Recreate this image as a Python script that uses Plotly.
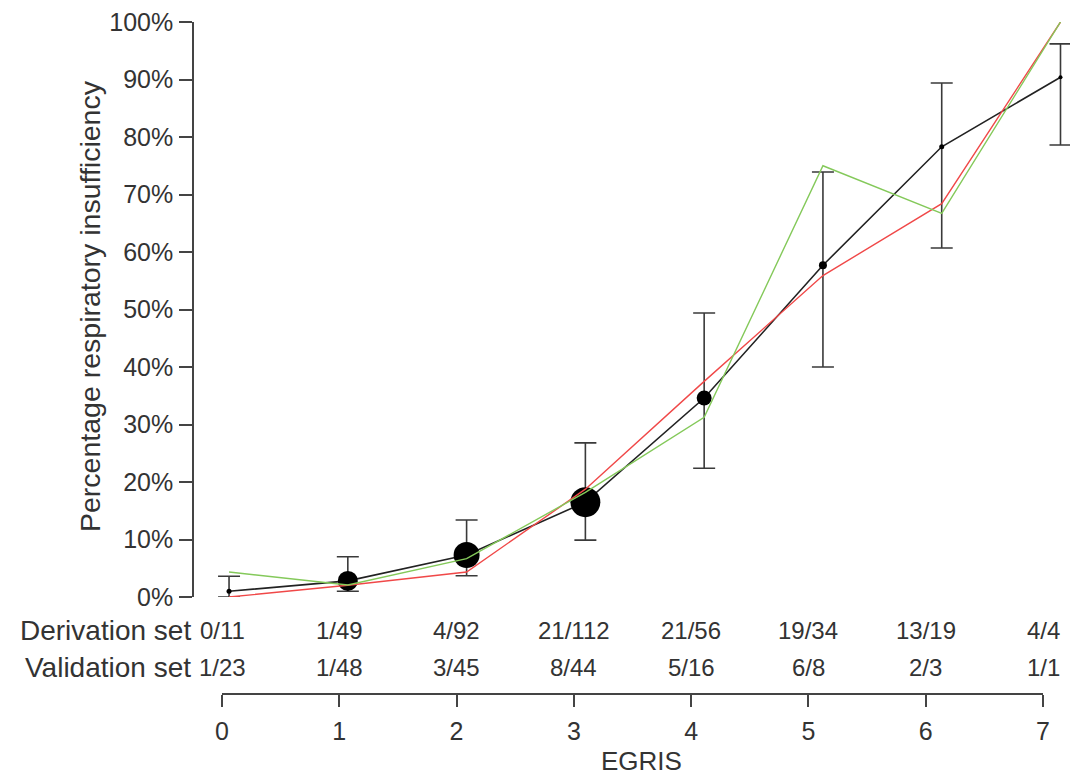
import plotly.graph_objects as go

# ---------------- data ----------------
egris = [0, 1, 2, 3, 4, 5, 6, 7]
# black: estimated proportion with 95% CI
black_y = [0.010, 0.028, 0.073, 0.165, 0.346, 0.577, 0.783, 0.904]
black_hi = [0.036, 0.070, 0.134, 0.268, 0.494, 0.739, 0.894, 0.962]
black_lo = [0.000, 0.010, 0.037, 0.099, 0.224, 0.400, 0.607, 0.786]
black_size = [5, 20, 26, 30, 15, 8, 5, 4]
# red: derivation set observed proportions
red_y = [0.0, 0.0204, 0.0435, 0.1875, 0.375, 0.559, 0.684, 1.0]
# green: validation set observed proportions
green_y = [0.0435, 0.0208, 0.0667, 0.182, 0.3125, 0.75, 0.667, 1.0]
deriv_labels = ["0/11", "1/49", "4/92", "21/112", "21/56", "19/34", "13/19", "4/4"]
valid_labels = ["1/23", "1/48", "3/45", "8/44", "5/16", "6/8", "2/3", "1/1"]
y_ticks = [i / 10 for i in range(11)]
y_ticklabels = [f"{i*10}%" for i in range(11)]

# ---------------- geometry ----------------
OFF = 8  # page body margin in the browser
W, H = 1082 - OFF, 779 - OFF
L, R, T, B = 194 - OFF, 1070 - OFF, 22 - OFF, 694 - OFF
PLOT_BOTTOM = 597 - OFF
FONT = "Liberation Sans, Arial, Helvetica, sans-serif"
TXT = "#333333"
AX = "#444444"


def py(px):
    """reference pixel y -> paper fraction"""
    return (B - (px - OFF)) / (B - T)


def pxx(px):
    """reference pixel x -> paper fraction"""
    return ((px - OFF) - L) / (R - L)


fig = go.Figure()

err_plus = [h - y for h, y in zip(black_hi, black_y)]
err_minus = [y - l for y, l in zip(black_y, black_lo)]

fig.add_trace(go.Scatter(
    x=egris, y=black_y, mode="lines+markers",
    line=dict(color="#222222", width=1.6),
    marker=dict(color="#000000", size=black_size, opacity=1,
                line=dict(width=0, color="#000000")),
    error_y=dict(type="data", symmetric=False, array=err_plus, arrayminus=err_minus,
                 color="#3a3a3a", thickness=1.6, width=11),
    cliponaxis=False, showlegend=False, hoverinfo="skip",
))
fig.add_trace(go.Scatter(
    x=egris, y=red_y, mode="lines",
    line=dict(color="#f04848", width=1.4),
    showlegend=False, hoverinfo="skip",
))
fig.add_trace(go.Scatter(
    x=egris, y=green_y, mode="lines",
    line=dict(color="#84c95a", width=1.4),
    showlegend=False, hoverinfo="skip",
))
# invisible trace so the lower EGRIS axis is drawn
fig.add_trace(go.Scatter(
    x=egris, y=[None] * len(egris), xaxis="x2", yaxis="y",
    mode="markers", showlegend=False, hoverinfo="skip",
))

fig.update_layout(
    template="none",
    width=W, height=H,
    margin=dict(l=L, r=W - R, t=T, b=H - B, pad=0),
    paper_bgcolor="white", plot_bgcolor="rgba(0,0,0,0)",
    font=dict(family=FONT, color=TXT, size=24),
    xaxis=dict(domain=[0, 1], range=[-0.295, 7.08], visible=False, anchor="y",
               automargin=False),
    yaxis=dict(
        domain=[py(PLOT_BOTTOM + OFF), 1], range=[0, 1],
        tickmode="array", tickvals=y_ticks, ticktext=y_ticklabels,
        showline=True, linecolor=AX, linewidth=1.5,
        ticks="outside", ticklen=13, tickwidth=1.5, tickcolor=AX,
        showgrid=False, zeroline=False, automargin=False,
        tickfont=dict(size=25, color=TXT),
        ticklabelstandoff=1, ticklabeloverflow="allow",
        anchor="x",
    ),
    xaxis2=dict(
        domain=[pxx(222), pxx(1043)], range=[0, 7],
        anchor="free", position=0,
        tickmode="array", tickvals=egris, ticktext=[str(v) for v in egris],
        showline=True, linecolor=AX, linewidth=1.5,
        ticks="outside", ticklen=12, tickwidth=1.5, tickcolor=AX,
        showgrid=False, zeroline=False, automargin=False,
        tickfont=dict(size=25, color=TXT),
        ticklabelstandoff=3, ticklabeloverflow="allow",
    ),
)

ann = []
ann.append(dict(text="Percentage respiratory insufficiency", textangle=-90,
                xref="paper", yref="paper", x=pxx(90), y=py(306),
                xanchor="center", yanchor="middle", showarrow=False,
                font=dict(size=28.5, color=TXT)))
ann.append(dict(text="EGRIS", xref="paper", yref="paper", x=pxx(641), y=py(761),
                xanchor="center", yanchor="middle", showarrow=False,
                borderpad=0, font=dict(size=26, color=TXT)))
ann.append(dict(text="Derivation set", xref="paper", yref="paper", x=pxx(193), y=py(630),
                xanchor="right", yanchor="middle", showarrow=False,
                font=dict(size=28, color=TXT)))
ann.append(dict(text="Validation set", xref="paper", yref="paper", x=pxx(193), y=py(667),
                xanchor="right", yanchor="middle", showarrow=False,
                font=dict(size=28, color=TXT)))
for xv, d, v in zip(egris, deriv_labels, valid_labels):
    ann.append(dict(text=d, xref="x2", yref="paper", x=xv, y=py(630),
                    xanchor="center", yanchor="middle", showarrow=False,
                    font=dict(size=24, color=TXT)))
    ann.append(dict(text=v, xref="x2", yref="paper", x=xv, y=py(667),
                    xanchor="center", yanchor="middle", showarrow=False,
                    font=dict(size=24, color=TXT)))
fig.update_layout(annotations=ann)

fig.write_html("out.html")
